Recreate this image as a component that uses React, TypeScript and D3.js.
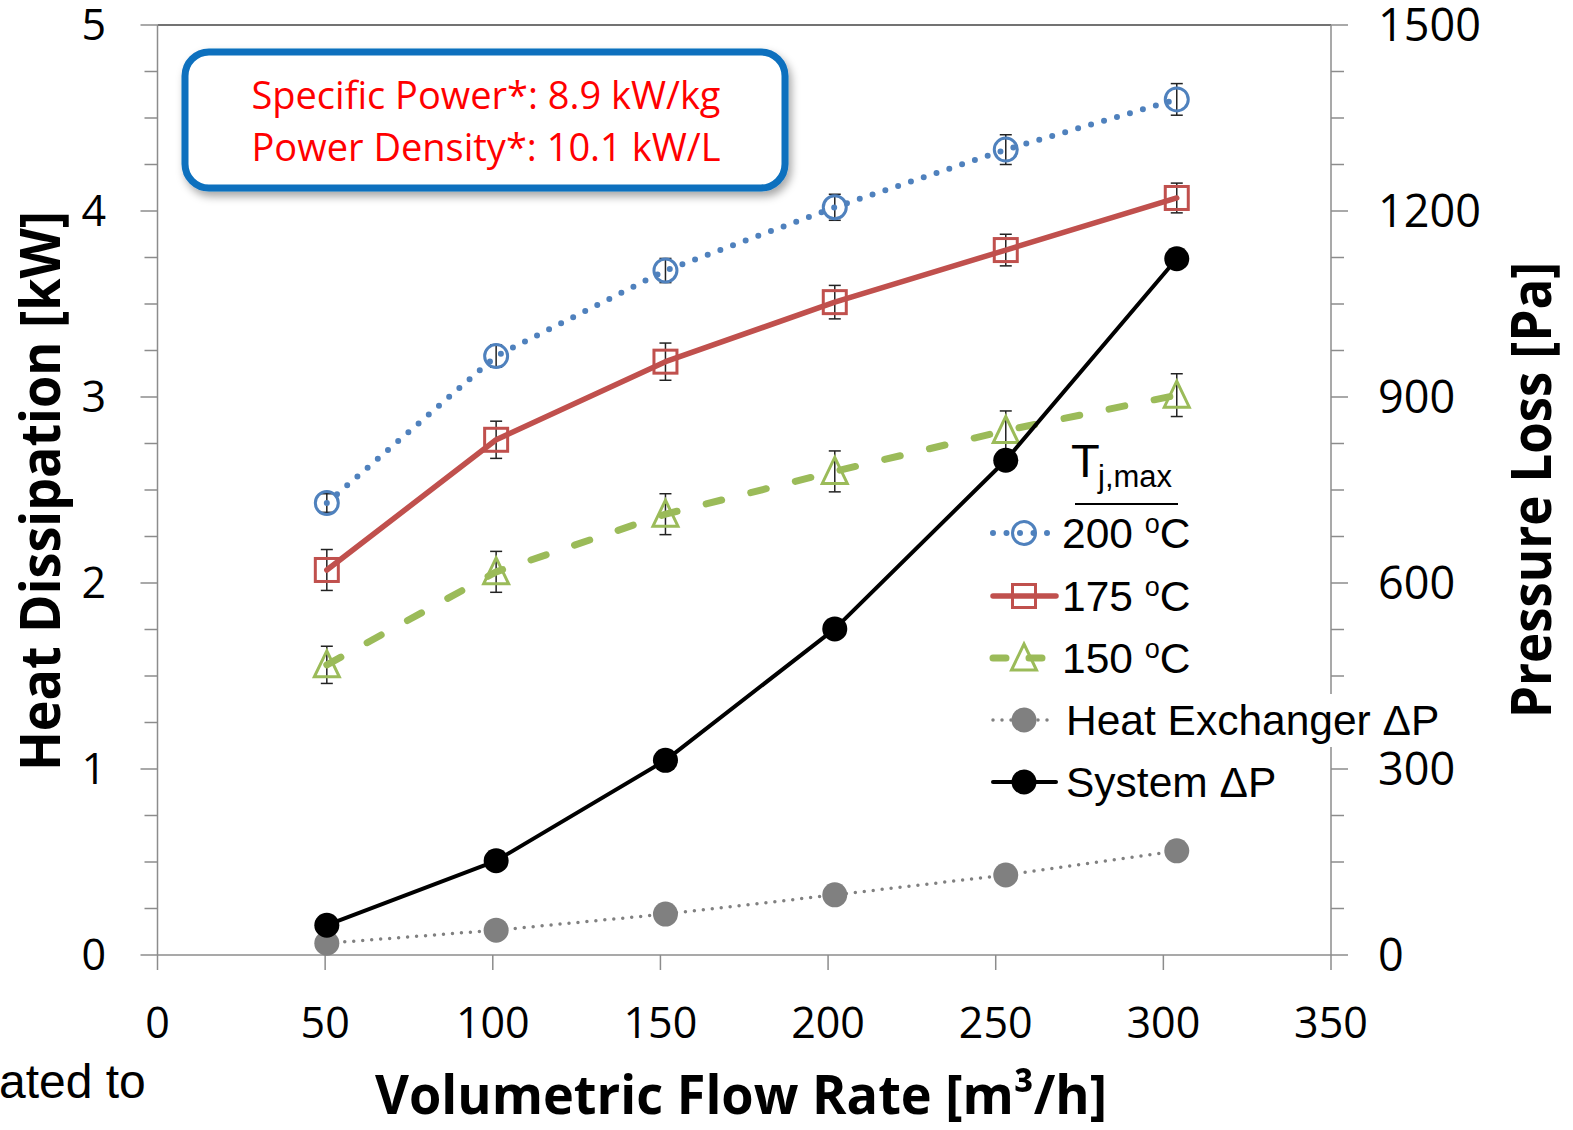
import React, { useEffect, useRef } from 'react'
import * as d3 from 'd3'

// flow rate of each measurement [m3/h]
const flowRate = [50.5, 101, 151.5, 202, 253, 304]

// heat dissipation [kW] and error bars, per max junction temperature
const heat200 = [2.43, 3.22, 3.68, 4.02, 4.33, 4.6]
const err200 = [0.05, 0.06, 0.065, 0.07, 0.08, 0.085]
const heat175 = [2.07, 2.77, 3.19, 3.51, 3.79, 4.07]
const err175 = [0.11, 0.1, 0.1, 0.09, 0.085, 0.08]
const heat150 = [1.56, 2.06, 2.37, 2.6, 2.82, 3.01]
const err150 = [0.1, 0.11, 0.11, 0.11, 0.105, 0.115]

// pressure loss [Pa]
const hxDeltaP = [19, 40, 66, 97, 129, 168]
const systemDeltaP = [48, 152, 314, 526, 798, 1123]

const xTicks = [0, 50, 100, 150, 200, 250, 300, 350]
const leftTicks = [0, 1, 2, 3, 4, 5]
const rightTicks = [0, 300, 600, 900, 1200, 1500]

const legendLabels = ['200', '175', '150', 'Heat Exchanger ΔP', 'System ΔP']
const boxLines = ['Specific Power*: 8.9 kW/kg', 'Power Density*: 10.1 kW/L']

const BLUE = '#4F81BD'
const RED = '#C0504D'
const GREEN = '#9BBB59'
const GRAY = '#808080'
const AXIS = '#8c8c8c'
const TICK_FONT = '"Open Sans", sans-serif'
const LEG_FONT = '"Liberation Sans", Arial, sans-serif'

const App = () => {
    const ref = useRef<SVGSVGElement>(null)

    useEffect(() => {
        const svg = d3.select(ref.current)
        svg.selectAll('*').remove()

        const x = d3.scaleLinear().domain([0, 350]).range([157.5, 1331])
        const yL = d3.scaleLinear().domain([0, 5]).range([955, 25])
        const yR = d3.scaleLinear().domain([0, 1500]).range([955, 25])

        const defs = svg.append('defs')
        const f = defs.append('filter').attr('id', 'shadow')
            .attr('x', '-10%').attr('y', '-20%').attr('width', '130%').attr('height', '150%')
        f.append('feDropShadow').attr('dx', 3).attr('dy', 5).attr('stdDeviation', 4)
            .attr('flood-color', '#000').attr('flood-opacity', 0.35)

        const g = svg.append('g')

        // axes frame
        g.append('line').attr('x1', x(0)).attr('x2', x(350)).attr('y1', yL(5)).attr('y2', yL(5))
            .attr('stroke', '#444').attr('stroke-width', 1.5)
        g.append('line').attr('x1', x(0)).attr('x2', x(0)).attr('y1', yL(0)).attr('y2', yL(5))
            .attr('stroke', AXIS).attr('stroke-width', 1.5)
        g.append('line').attr('x1', x(350)).attr('x2', x(350)).attr('y1', yL(0)).attr('y2', yL(5))
            .attr('stroke', AXIS).attr('stroke-width', 1.5)
        g.append('line').attr('x1', x(0)).attr('x2', x(350)).attr('y1', yL(0)).attr('y2', yL(0))
            .attr('stroke', AXIS).attr('stroke-width', 1.5)

        // left ticks (major every 1, minor every 0.25), right (major 300, minor 75)
        g.selectAll('.lminor').data(d3.range(0, 5.001, 0.25)).join('line')
            .attr('x1', d => Number.isInteger(d) ? x(0) - 17 : x(0) - 13).attr('x2', x(0))
            .attr('y1', d => yL(d)).attr('y2', d => yL(d))
            .attr('stroke', AXIS).attr('stroke-width', 1.5)
        g.selectAll('.rminor').data(d3.range(0, 1500.1, 75)).join('line')
            .attr('x1', x(350)).attr('x2', d => d % 300 === 0 ? x(350) + 17 : x(350) + 13)
            .attr('y1', d => yR(d)).attr('y2', d => yR(d))
            .attr('stroke', AXIS).attr('stroke-width', 1.5)
        g.selectAll('.xt').data(xTicks).join('line')
            .attr('x1', d => x(d)).attr('x2', d => x(d))
            .attr('y1', yL(0)).attr('y2', yL(0) + 15)
            .attr('stroke', AXIS).attr('stroke-width', 1.5)

        // tick labels
        g.selectAll('.ll').data(leftTicks).join('text')
            .attr('x', 106).attr('y', d => yL(d) + 15)
            .attr('text-anchor', 'end').attr('font-family', TICK_FONT).attr('font-size', 43)
            .attr('fill', '#000').text(d => d)
        g.selectAll('.rl').data(rightTicks).join('text')
            .attr('x', 1378).attr('y', d => yR(d) + 16)
            .attr('text-anchor', 'start').attr('font-family', TICK_FONT).attr('font-size', 45)
            .attr('fill', '#000').text(d => d)
        g.selectAll('.xl').data(xTicks).join('text')
            .attr('x', d => x(d)).attr('y', 1038)
            .attr('text-anchor', 'middle').attr('font-family', TICK_FONT).attr('font-size', 43)
            .attr('fill', '#000').text(d => d)

        // axis titles
        g.append('text').attr('transform', 'translate(60,491) rotate(-90)')
            .attr('text-anchor', 'middle').attr('font-family', TICK_FONT).attr('font-weight', 700)
            .attr('font-size', 56).attr('textLength', 560).attr('lengthAdjust', 'spacingAndGlyphs')
            .text('Heat Dissipation [kW]')
        g.append('text').attr('transform', 'translate(1551,490) rotate(-90)')
            .attr('text-anchor', 'middle').attr('font-family', TICK_FONT).attr('font-weight', 700)
            .attr('font-size', 56).attr('textLength', 456).attr('lengthAdjust', 'spacingAndGlyphs')
            .text('Pressure Loss [Pa]')
        g.append('text').attr('x', 741).attr('y', 1114)
            .attr('text-anchor', 'middle').attr('font-family', TICK_FONT).attr('font-weight', 700)
            .attr('font-size', 54).attr('textLength', 732).attr('lengthAdjust', 'spacingAndGlyphs')
            .text('Volumetric Flow Rate [m³/h]')

        // cropped caption fragment
        g.append('text').attr('x', -1).attr('y', 1098).attr('font-family', LEG_FONT)
            .attr('font-size', 48).attr('fill', '#000').text('ated to')

        // info box
        g.append('rect').attr('x', 185).attr('y', 52).attr('width', 600).attr('height', 136)
            .attr('rx', 24).attr('fill', '#fff').attr('stroke', '#0A70BE').attr('stroke-width', 7)
            .attr('filter', 'url(#shadow)')
        g.selectAll('.bt').data(boxLines).join('text')
            .attr('x', 486).attr('y', (d, i) => 109 + i * 52)
            .attr('text-anchor', 'middle').attr('font-family', TICK_FONT).attr('font-size', 38)
            .attr('fill', '#FF0000').attr('textLength', 469).attr('lengthAdjust', 'spacingAndGlyphs')
            .text(d => d)

        const pts = (ys: number[], scale: d3.ScaleLinear<number, number>) =>
            flowRate.map((fr, i) => [x(fr), scale(ys[i])] as [number, number])
        const line = d3.line()

        const errorBars = (vals: number[], errs: number[]) => {
            const eg = g.append('g')
            flowRate.forEach((fr, i) => {
                const cx = x(fr), y1 = yL(vals[i] + errs[i]), y2 = yL(vals[i] - errs[i])
                eg.append('line').attr('x1', cx).attr('x2', cx).attr('y1', y1).attr('y2', y2)
                    .attr('stroke', '#222').attr('stroke-width', 1.5)
                eg.append('line').attr('x1', cx - 6).attr('x2', cx + 6).attr('y1', y1).attr('y2', y1)
                    .attr('stroke', '#222').attr('stroke-width', 1.5)
                eg.append('line').attr('x1', cx - 6).attr('x2', cx + 6).attr('y1', y2).attr('y2', y2)
                    .attr('stroke', '#222').attr('stroke-width', 1.5)
            })
        }

        const drawCircle = (sel: any, p: [number, number], color: string) =>
            sel.append('circle').attr('cx', p[0]).attr('cy', p[1]).attr('r', 11.5)
                .attr('fill', 'none').attr('stroke', color).attr('stroke-width', 3)
        const drawSquare = (sel: any, p: [number, number], color: string) =>
            sel.append('rect').attr('x', p[0] - 11.5).attr('y', p[1] - 11.5).attr('width', 23).attr('height', 23)
                .attr('fill', 'none').attr('stroke', color).attr('stroke-width', 3)
        const drawTriangle = (sel: any, p: [number, number], color: string) =>
            sel.append('path').attr('d', `M${p[0]},${p[1] - 14} L${p[0] + 12.5},${p[1] + 12} L${p[0] - 12.5},${p[1] + 12} Z`)
                .attr('fill', 'none').attr('stroke', color).attr('stroke-width', 3).attr('stroke-linejoin', 'miter')
        const drawDot = (sel: any, p: [number, number], color: string) =>
            sel.append('circle').attr('cx', p[0]).attr('cy', p[1]).attr('r', 12.5).attr('fill', color)

        const styles = [
            { color: BLUE, width: 6, dash: '0 13.5', marker: drawCircle },
            { color: RED, width: 5.5, dash: null, marker: drawSquare },
            { color: GREEN, width: 7, dash: '16 30', marker: drawTriangle },
            { color: GRAY, width: 3.5, dash: '0 9', marker: drawDot },
            { color: '#000', width: 4, dash: null, marker: drawDot },
        ]

        const series = [
            { p: pts(heat200, yL), err: err200, vals: heat200 },
            { p: pts(heat175, yL), err: err175, vals: heat175 },
            { p: pts(heat150, yL), err: err150, vals: heat150 },
            { p: pts(hxDeltaP, yR), err: null, vals: hxDeltaP },
            { p: pts(systemDeltaP, yR), err: null, vals: systemDeltaP },
        ]

        series.forEach((s, k) => {
            const st = styles[k]
            if (s.err) errorBars(s.vals, s.err)
            g.append('path').attr('d', line(s.p)).attr('fill', 'none')
                .attr('stroke', st.color).attr('stroke-width', st.width)
                .attr('stroke-linecap', 'round').attr('stroke-linejoin', 'round')
                .attr('stroke-dasharray', st.dash)
            const mg = g.append('g')
            s.p.forEach(p => st.marker(mg, p, st.color))
        })

        // legend
        const lg = g.append('g')
        lg.append('rect').attr('x', 1062).attr('y', 694).attr('width', 380).attr('height', 53).attr('fill', '#fff')
        lg.append('text').attr('x', 1071).attr('y', 477).attr('font-family', LEG_FONT).attr('font-size', 47)
            .text('T')
            .append('tspan').attr('x', 1098).attr('y', 487).attr('font-size', 31).text('j,max')
        lg.append('line').attr('x1', 1075).attr('x2', 1178).attr('y1', 504).attr('y2', 504)
            .attr('stroke', '#000').attr('stroke-width', 1.8)

        const legY = [533, 596, 658, 720, 782]
        legendLabels.forEach((lab, i) => {
            const st = styles[i]
            const cy = legY[i]
            lg.append('path').attr('d', line([[993, cy], [1056, cy]]))
                .attr('stroke', st.color).attr('stroke-width', st.width)
                .attr('stroke-linecap', 'round').attr('stroke-dasharray', i === 2 ? '13 23' : st.dash)
            st.marker(lg, [1024, cy], st.color)
            const t = lg.append('text').attr('x', i < 3 ? 1062 : 1066).attr('y', cy + 15)
                .attr('font-family', LEG_FONT).attr('font-size', 42.5).attr('fill', '#000')
            if (i < 3) {
                t.append('tspan').text(lab + ' ')
                t.append('tspan').attr('font-size', 27).attr('dy', -15).text('o')
                t.append('tspan').attr('dy', 15).text('C')
            } else {
                t.text(lab)
            }
        })
    }, [])

    return (
        <svg ref={ref} width={1573} height={1130}
            style={{ position: 'absolute', left: 0, top: 0, background: '#fff' }} />
    )
}

export default App
